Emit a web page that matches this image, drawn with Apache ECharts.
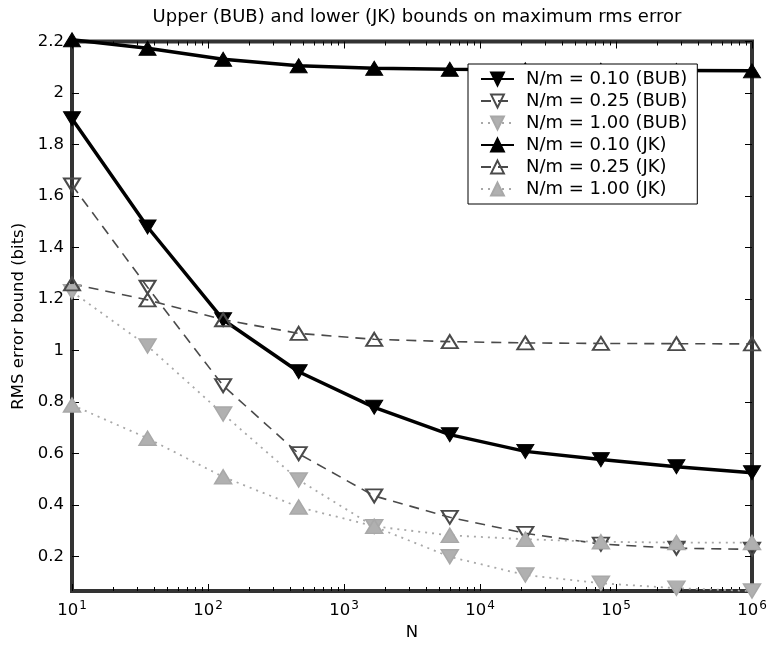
<!DOCTYPE html>
<html><head><meta charset="utf-8">
<script src="https://cdn.jsdelivr.net/npm/echarts@6/dist/echarts.min.js"></script>
<style>html,body{margin:0;padding:0;background:#fff}#c{width:771px;height:648px}</style>
</head><body><div id="c"></div>
<script>
// ---- data ----
const N = [10, 35.94, 129.2, 464.2, 1668, 5995, 21544, 77426, 278256, 1000000];
const bub010 = [1.900, 1.480, 1.120, 0.918, 0.780, 0.674, 0.609, 0.577, 0.549, 0.526];
const bub025 = [1.643, 1.246, 0.864, 0.600, 0.436, 0.353, 0.291, 0.249, 0.233, 0.229];
const bub100 = [1.229, 1.018, 0.754, 0.498, 0.317, 0.200, 0.129, 0.097, 0.078, 0.067];
const jk010  = [2.207, 2.174, 2.131, 2.106, 2.096, 2.092, 2.090, 2.088, 2.087, 2.086];
const jk025  = [1.259, 1.197, 1.120, 1.067, 1.044, 1.035, 1.030, 1.028, 1.027, 1.026];
const jk100  = [0.789, 0.660, 0.510, 0.393, 0.318, 0.283, 0.268, 0.258, 0.255, 0.255];
const seriesNames = ['N/m = 0.10 (BUB)', 'N/m = 0.25 (BUB)', 'N/m = 1.00 (BUB)',
                     'N/m = 0.10 (JK)', 'N/m = 0.25 (JK)', 'N/m = 1.00 (JK)'];
const yTicks = [0.2, 0.4, 0.6, 0.8, 1.0, 1.2, 1.4, 1.6, 1.8, 2.0, 2.2];
const yTickLabels = ['0.2', '0.4', '0.6', '0.8', '1', '1.2', '1.4', '1.6', '1.8', '2', '2.2'];
const xTickExponents = ['1', '2', '3', '4', '5', '6'];
const titleText = 'Upper (BUB) and lower (JK) bounds on maximum rms error';
const xName = 'N';
const yName = 'RMS error bound (bits)';
const yMin = 0.067, yMax = 2.2;

// minor tick positions for the log axis (in log10 units)
const xMinorLog = [];
for (let k = 1; k <= 5; k++) for (let m = 2; m <= 9; m++) xMinorLog.push(Math.log10(m * Math.pow(10, k)));

const FONT = 'DejaVu Sans';
const UP = 'path://M5,0L10,8.66L0,8.66Z';
const DOWN = 'path://M0,0L10,0L5,8.66Z';
const pts = ys => N.map((x, i) => [x, ys[i]]);

const styles = {
  k:  { line: { color: '#000', width: 3.5, type: 'solid' }, item: { color: '#000', borderColor: '#000', borderWidth: 1 }, size: [17, 14] },
  d:  { line: { color: '#4a4a4a', width: 1.6, type: [10, 7] }, item: { color: 'rgba(255,255,255,0)', borderColor: '#4a4a4a', borderWidth: 2 }, size: [16, 13] },
  g:  { line: { color: '#a8a8a8', width: 1.8, type: [2, 5] }, item: { color: '#b0b0b0', borderColor: '#a8a8a8', borderWidth: 1.5 }, size: [17, 14] }
};
function mk(name, ys, st, sym) {
  return { name, type: 'line', data: pts(ys), symbol: sym, symbolSize: st.size,
    lineStyle: st.line, itemStyle: st.item, clip: false, showAllSymbol: true,
    emphasis: { disabled: true } };
}

const tickStyle = { color: '#000', width: 1 };
const chart = echarts.init(document.getElementById('c'));
chart.setOption({
  animation: false,
  backgroundColor: '#fff',
  title: { text: titleText, left: 412, textAlign: 'center', top: 3,
    textStyle: { fontFamily: FONT, fontSize: 18, fontWeight: 'normal', color: '#000' } },
  grid: { left: 72, right: 19, top: 41.5, bottom: 57, show: true, borderColor: '#333', borderWidth: 4, backgroundColor: '#fff' },
  legend: {
    orient: 'vertical', left: 468, top: 64,
    backgroundColor: '#fff', borderColor: '#000', borderWidth: 1,
    padding: [6, 10, 6, 12], itemGap: 4, itemWidth: 33, itemHeight: 16,
    textStyle: { fontFamily: FONT, fontSize: 18, color: '#000', lineHeight: 17, padding: [0, 0, 0, 7] },
    data: seriesNames
  },
  xAxis: [
    { type: 'log', logBase: 10, min: 10, max: 1e6, position: 'bottom',
      axisLine: { show: false }, splitLine: { show: false },
      axisTick: { inside: true, length: 7, lineStyle: tickStyle },
      axisLabel: { margin: 9, color: '#000',
        formatter: v => '{b|10}{s|' + xTickExponents[Math.round(Math.log10(v)) - 1] + '}',
        rich: { b: { fontFamily: FONT, fontSize: 16.5, color: '#000' },
                s: { fontFamily: FONT, fontSize: 12, color: '#000', padding: [0, 0, 10, 1] } } },
      name: xName, nameLocation: 'middle', nameGap: 30,
      nameTextStyle: { fontFamily: FONT, fontSize: 16.5, color: '#000' } },
    { type: 'log', logBase: 10, min: 10, max: 1e6, position: 'top',
      axisLine: { show: false }, splitLine: { show: false }, axisLabel: { show: false },
      axisTick: { inside: true, length: 7, lineStyle: tickStyle } },
    { type: 'value', min: 1, max: 6, position: 'bottom',
      axisLine: { show: false }, splitLine: { show: false }, axisLabel: { show: false },
      axisTick: { inside: true, length: 4, customValues: xMinorLog, lineStyle: tickStyle } },
    { type: 'value', min: 1, max: 6, position: 'top',
      axisLine: { show: false }, splitLine: { show: false }, axisLabel: { show: false },
      axisTick: { inside: true, length: 4, customValues: xMinorLog, lineStyle: tickStyle } }
  ],
  yAxis: [
    { type: 'value', min: yMin, max: yMax, position: 'left',
      axisLine: { show: false }, splitLine: { show: false },
      axisTick: { inside: true, length: 7, customValues: yTicks, lineStyle: tickStyle },
      axisLabel: { customValues: yTicks, margin: 8, color: '#000', fontFamily: FONT, fontSize: 16.5,
        formatter: v => { let bi = 0; yTicks.forEach((t, i) => { if (Math.abs(t - v) < Math.abs(yTicks[bi] - v)) bi = i; }); return yTickLabels[bi]; } },
      name: yName, nameLocation: 'middle', nameGap: 38, nameRotate: 90,
      nameTextStyle: { fontFamily: FONT, fontSize: 16.5, color: '#000' } },
    { type: 'value', min: yMin, max: yMax, position: 'right',
      axisLine: { show: false }, splitLine: { show: false }, axisLabel: { show: false },
      axisTick: { inside: true, length: 7, customValues: yTicks, lineStyle: tickStyle } }
  ],
  series: [
    mk(seriesNames[0], bub010, styles.k, DOWN),
    mk(seriesNames[1], bub025, styles.d, DOWN),
    mk(seriesNames[2], bub100, styles.g, DOWN),
    mk(seriesNames[3], jk010, styles.k, UP),
    mk(seriesNames[4], jk025, styles.d, UP),
    mk(seriesNames[5], jk100, styles.g, UP)
  ]
});
</script></body></html>
